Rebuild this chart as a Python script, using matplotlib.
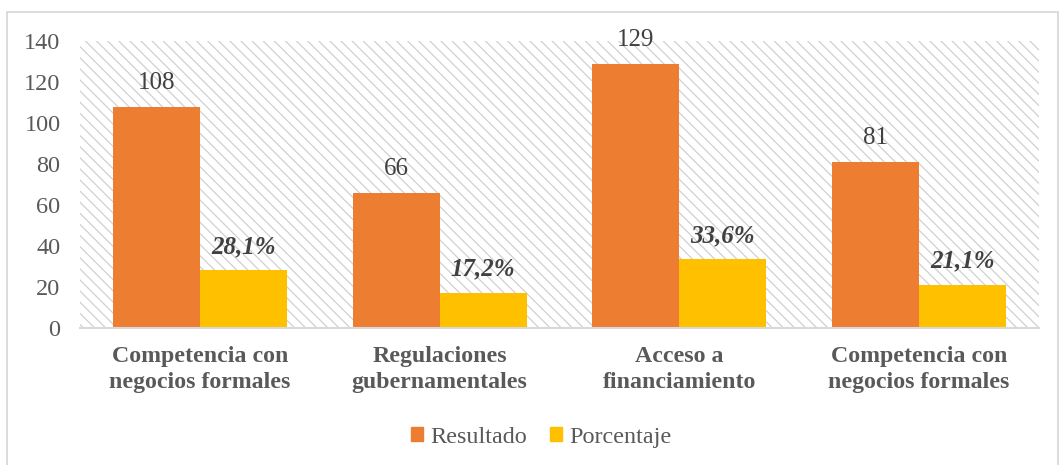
import numpy as np
import matplotlib
matplotlib.use("Agg")
from matplotlib import pyplot as plt
from matplotlib.patches import Rectangle, Patch

categorias = ["Competencia con\nnegocios formales", "Regulaciones\ngubernamentales",
              "Acceso a\nfinanciamiento", "Competencia con\nnegocios formales"]
resultado = [108, 66, 129, 81]
porcentaje = [28.1, 17.2, 33.6, 21.1]
etiquetas_pct = ["28,1%", "17,2%", "33,6%", "21,1%"]
yticks = [0, 20, 40, 60, 80, 100, 120, 140]

naranja = "#ED7D31"
amarillo = "#FFC000"
gris = "#595959"

plt.rcParams['font.family'] = ['Liberation Serif', 'DejaVu Serif']
plt.rcParams['hatch.linewidth'] = 0.9
plt.rcParams['hatch.color'] = '#d0d0d0'

fig = plt.figure(figsize=(10.6, 4.65), dpi=100)
ax = fig.add_axes([80/1060, 1-328/465, 959/1060, 287/465])

# fondo rayado
ax.add_patch(Rectangle((0, 0), 1, 1, transform=ax.transAxes, facecolor='white',
                       hatch='\\\\\\', edgecolor='#d0d0d0', linewidth=0, zorder=0))

x = np.arange(len(categorias))
w = 0.363
b1 = ax.bar(x - w/2, resultado, w, color=naranja, zorder=2)
b2 = ax.bar(x + w/2, porcentaje, w, color=amarillo, zorder=2)

for i in range(len(x)):
    ax.annotate(str(resultado[i]), (x[i] - w/2, resultado[i]), xytext=(0, 17),
                textcoords='offset points', ha='center', va='center',
                fontsize=18, color='#404040')
    ax.annotate(etiquetas_pct[i], (x[i] + w/2, porcentaje[i]), xytext=(0, 17),
                textcoords='offset points', ha='center', va='center',
                fontsize=18, color='#404040', fontweight='bold', fontstyle='italic')

ax.set_xlim(-0.5, len(x) - 0.5)
ax.set_ylim(0, 140)
ax.set_yticks(yticks)
ax.set_xticks(x)
ax.set_xticklabels(categorias, fontsize=17.2, fontweight='bold', color=gris, linespacing=1.32)
ax.tick_params(axis='y', length=0, pad=14, labelsize=17.5, labelcolor=gris)
ax.tick_params(axis='x', length=0, pad=13)
for s in ['top', 'right', 'left']:
    ax.spines[s].set_visible(False)
ax.spines['bottom'].set_color('#d9d9d9')
ax.spines['bottom'].set_linewidth(1.5)
ax.spines['bottom'].set_zorder(3)

handles = [Patch(color=naranja, label='Resultado'), Patch(color=amarillo, label='Porcentaje')]
fig.legend(handles=handles, loc='center', bbox_to_anchor=(541/1060, 1-437/465), ncol=2,
           frameon=False, fontsize=17.4, handlelength=0.5, handleheight=0.5,
           handletextpad=0.3, columnspacing=0.95, labelcolor=gris)

# borde del grafico
fig.add_artist(Rectangle((7/1060, -0.02), 1051/1060, 1.02 - 12/465, transform=fig.transFigure,
                         fill=False, edgecolor='#d9d9d9', linewidth=1.3))

fig.savefig("out.png", dpi=100)
